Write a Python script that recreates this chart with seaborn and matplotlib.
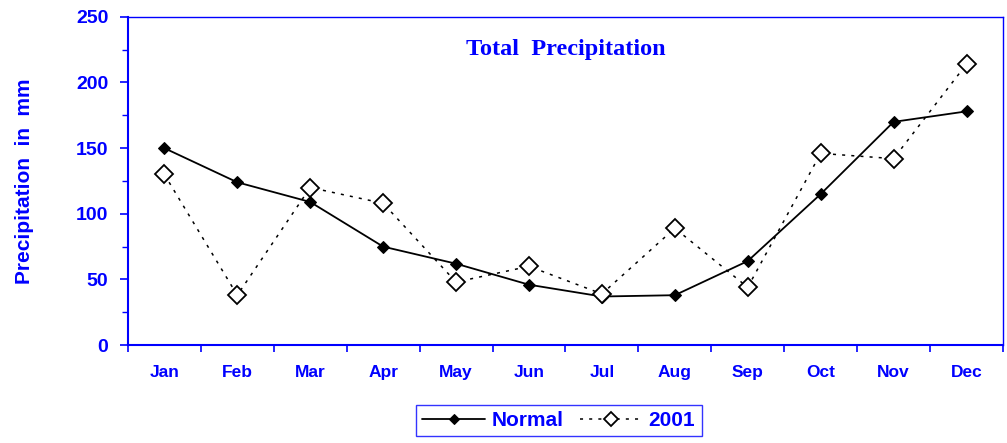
import matplotlib
matplotlib.use("Agg")
from matplotlib import pyplot as plt
import pandas as pd
import seaborn as sns
import numpy as np

# monthly precipitation (mm)
months = ['Jan', 'Feb', 'Mar', 'Apr', 'May', 'Jun', 'Jul', 'Aug', 'Sep', 'Oct', 'Nov', 'Dec']
normal = [150, 124, 109, 75, 62, 46, 37, 38, 64, 115, 170, 178]
y2001 = [130, 38, 120, 108, 48, 60, 39, 89, 44, 146, 142, 214]

blue = '#0000ff'

df = pd.DataFrame({'Month': months, 'Normal': normal, '2001': y2001})

sns.set_style('white')
plt.rcParams['font.family'] = ['Liberation Sans', 'DejaVu Sans']

fig = plt.figure(figsize=(10.07, 4.43), dpi=100)
ax = fig.add_axes([0.127, 0.221, 0.869, 0.741])

sns.lineplot(data=df, x='Month', y='Normal', ax=ax, color='black', lw=1.3,
             marker='D', markersize=6.5, markerfacecolor='black',
             markeredgecolor='black', label='Normal')
sns.lineplot(data=df, x='Month', y='2001', ax=ax, color='black', lw=1.1,
             marker='D', markersize=9, markerfacecolor='white',
             markeredgecolor='black', markeredgewidth=1.3,
             dashes=False, label='2001')
ax.lines[1].set_dashes((2, 4))

ax.set_xlim(-0.5, 11.5)
ax.set_ylim(0, 250)
ax.set_xticks(range(12))
ax.set_xticklabels(months)
ax.set_xticks(np.arange(-0.5, 12, 1), minor=True)
ax.set_yticks(range(0, 251, 50))
ax.set_yticks(range(0, 251, 25), minor=True)
ax.tick_params(axis='x', which='major', length=0, pad=14, labelsize=12.5,
               labelcolor=blue)
ax.tick_params(axis='x', which='minor', length=5, width=1.2, color=blue,
               direction='out', bottom=True)
ax.tick_params(axis='y', which='major', length=6, width=1.2, color=blue,
               direction='out', left=True, pad=8, labelsize=14,
               labelcolor=blue)
ax.tick_params(axis='y', which='minor', length=4, width=1.0, color=blue,
               direction='out', left=True)
for lab in ax.get_xticklabels() + ax.get_yticklabels():
    lab.set_fontweight('bold')

for side in ['left', 'bottom']:
    ax.spines[side].set_color(blue)
    ax.spines[side].set_linewidth(1.5)
for side in ['top', 'right']:
    ax.spines[side].set_color(blue)
    ax.spines[side].set_linewidth(1.0)

ax.set_xlabel('')
ax.set_ylabel('Precipitation  in  mm', color=blue, fontsize=15,
              fontweight='bold', labelpad=30)
ax.text(0.5, 0.902, 'Total  Precipitation', transform=ax.transAxes,
        ha='center', va='center', color=blue, fontsize=17.5,
        fontweight='bold', family='Liberation Serif')

ax.get_legend().remove()
h, l = ax.get_legend_handles_labels()
leg = fig.legend(h, l, loc='upper center', bbox_to_anchor=(0.555, 0.086),
                 borderaxespad=0, ncol=2, frameon=True, fancybox=False,
                 handlelength=3.0, columnspacing=0.8, handletextpad=0.3,
                 borderpad=0.3, markerscale=0.75,
                 prop={'weight': 'bold', 'size': 15})
leg.get_frame().set_edgecolor(blue)
leg.get_frame().set_linewidth(1.0)
for t in leg.get_texts():
    t.set_color(blue)

fig.savefig('out.png', dpi=100)
